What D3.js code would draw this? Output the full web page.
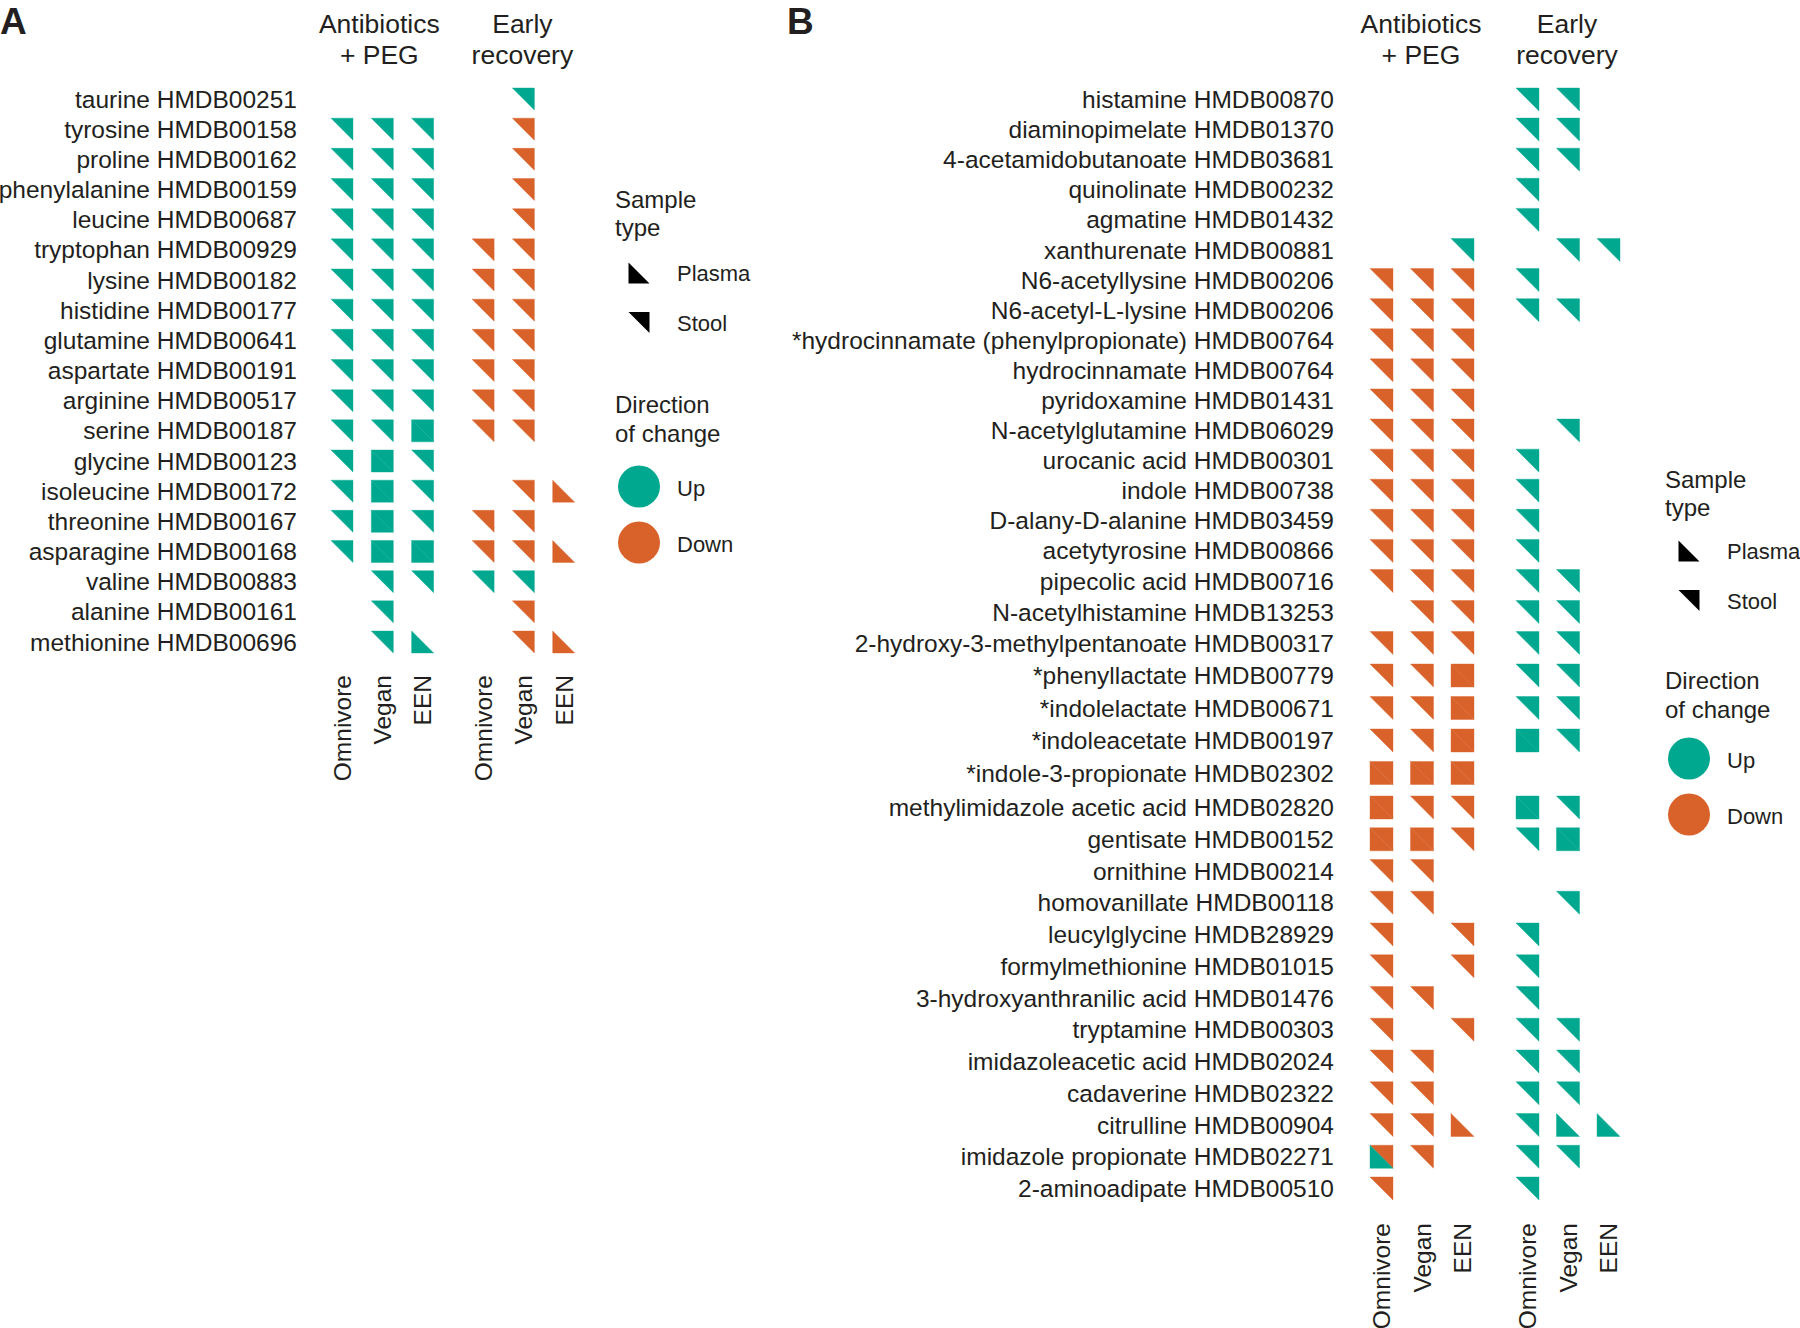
<!DOCTYPE html>
<html><head><meta charset="utf-8">
<script src="https://cdn.jsdelivr.net/npm/d3@7"></script>
<style>
body{margin:0;background:#fff}
text{font-family:"Liberation Sans",Arial,Helvetica,sans-serif;fill:#231f20}
</style>
</head><body><svg id="chart" width="1800" height="1328"></svg>
<script>
// ---------- data ----------
const groups = ["Antibiotics + PEG", "Early recovery"];
const groupLines = [["Antibiotics", "+ PEG"], ["Early", "recovery"]];
const diets = ["Omnivore", "Vegan", "EEN"];
const directionLabels = ["Up", "Down"];
const sampleLabels = ["Plasma", "Stool"];

const metabolitesA = [
  "taurine HMDB00251", "tyrosine HMDB00158", "proline HMDB00162", "phenylalanine HMDB00159",
  "leucine HMDB00687", "tryptophan HMDB00929", "lysine HMDB00182", "histidine HMDB00177",
  "glutamine HMDB00641", "aspartate HMDB00191", "arginine HMDB00517", "serine HMDB00187",
  "glycine HMDB00123", "isoleucine HMDB00172", "threonine HMDB00167", "asparagine HMDB00168",
  "valine HMDB00883", "alanine HMDB00161", "methionine HMDB00696"
];
// columns: ABX Omnivore, ABX Vegan, ABX EEN, ER Omnivore, ER Vegan, ER EEN ; 1 = up, -1 = down
const stoolA = [
  [0,0,0,0,1,0],
  [1,1,1,0,-1,0],
  [1,1,1,0,-1,0],
  [1,1,1,0,-1,0],
  [1,1,1,0,-1,0],
  [1,1,1,-1,-1,0],
  [1,1,1,-1,-1,0],
  [1,1,1,-1,-1,0],
  [1,1,1,-1,-1,0],
  [1,1,1,-1,-1,0],
  [1,1,1,-1,-1,0],
  [1,1,1,-1,-1,0],
  [1,1,1,0,0,0],
  [1,1,1,0,-1,0],
  [1,1,1,-1,-1,0],
  [1,1,1,-1,-1,0],
  [0,1,1,1,1,0],
  [0,1,0,0,-1,0],
  [0,1,0,0,-1,0]
];
const plasmaA = [
  [0,0,0,0,0,0],
  [0,0,0,0,0,0],
  [0,0,0,0,0,0],
  [0,0,0,0,0,0],
  [0,0,0,0,0,0],
  [0,0,0,0,0,0],
  [0,0,0,0,0,0],
  [0,0,0,0,0,0],
  [0,0,0,0,0,0],
  [0,0,0,0,0,0],
  [0,0,0,0,0,0],
  [0,0,1,0,0,0],
  [0,1,0,0,0,0],
  [0,1,0,0,0,-1],
  [0,1,0,0,0,0],
  [0,1,1,0,0,-1],
  [0,0,0,0,0,0],
  [0,0,0,0,0,0],
  [0,0,1,0,0,-1]
];

const metabolitesB = [
  "histamine HMDB00870", "diaminopimelate HMDB01370", "4-acetamidobutanoate HMDB03681",
  "quinolinate HMDB00232", "agmatine HMDB01432", "xanthurenate HMDB00881",
  "N6-acetyllysine HMDB00206", "N6-acetyl-L-lysine HMDB00206",
  "*hydrocinnamate (phenylpropionate) HMDB00764", "hydrocinnamate HMDB00764",
  "pyridoxamine HMDB01431", "N-acetylglutamine HMDB06029", "urocanic acid HMDB00301",
  "indole HMDB00738", "D-alany-D-alanine HMDB03459", "acetytyrosine HMDB00866",
  "pipecolic acid HMDB00716", "N-acetylhistamine HMDB13253",
  "2-hydroxy-3-methylpentanoate HMDB00317", "*phenyllactate HMDB00779",
  "*indolelactate HMDB00671", "*indoleacetate HMDB00197", "*indole-3-propionate HMDB02302",
  "methylimidazole acetic acid HMDB02820", "gentisate HMDB00152", "ornithine HMDB00214",
  "homovanillate HMDB00118", "leucylglycine HMDB28929", "formylmethionine HMDB01015",
  "3-hydroxyanthranilic acid HMDB01476", "tryptamine HMDB00303",
  "imidazoleacetic acid HMDB02024", "cadaverine HMDB02322", "citrulline HMDB00904",
  "imidazole propionate HMDB02271", "2-aminoadipate HMDB00510"
];
const stoolB = [
  [0,0,0,1,1,0],
  [0,0,0,1,1,0],
  [0,0,0,1,1,0],
  [0,0,0,1,0,0],
  [0,0,0,1,0,0],
  [0,0,1,0,1,1],
  [-1,-1,-1,1,0,0],
  [-1,-1,-1,1,1,0],
  [-1,-1,-1,0,0,0],
  [-1,-1,-1,0,0,0],
  [-1,-1,-1,0,0,0],
  [-1,-1,-1,0,1,0],
  [-1,-1,-1,1,0,0],
  [-1,-1,-1,1,0,0],
  [-1,-1,-1,1,0,0],
  [-1,-1,-1,1,0,0],
  [-1,-1,-1,1,1,0],
  [0,-1,-1,1,1,0],
  [-1,-1,-1,1,1,0],
  [-1,-1,-1,1,1,0],
  [-1,-1,-1,1,1,0],
  [-1,-1,-1,1,1,0],
  [-1,-1,-1,0,0,0],
  [-1,-1,-1,1,1,0],
  [-1,-1,-1,1,1,0],
  [-1,-1,0,0,0,0],
  [-1,-1,0,0,1,0],
  [-1,0,-1,1,0,0],
  [-1,0,-1,1,0,0],
  [-1,-1,0,1,0,0],
  [-1,0,-1,1,1,0],
  [-1,-1,0,1,1,0],
  [-1,-1,0,1,1,0],
  [-1,-1,0,1,0,0],
  [-1,-1,0,1,1,0],
  [-1,0,0,1,0,0]
];
const plasmaB = [
  [0,0,0,0,0,0],
  [0,0,0,0,0,0],
  [0,0,0,0,0,0],
  [0,0,0,0,0,0],
  [0,0,0,0,0,0],
  [0,0,0,0,0,0],
  [0,0,0,0,0,0],
  [0,0,0,0,0,0],
  [0,0,0,0,0,0],
  [0,0,0,0,0,0],
  [0,0,0,0,0,0],
  [0,0,0,0,0,0],
  [0,0,0,0,0,0],
  [0,0,0,0,0,0],
  [0,0,0,0,0,0],
  [0,0,0,0,0,0],
  [0,0,0,0,0,0],
  [0,0,0,0,0,0],
  [0,0,0,0,0,0],
  [0,0,-1,0,0,0],
  [0,0,-1,0,0,0],
  [0,0,-1,1,0,0],
  [-1,-1,-1,0,0,0],
  [-1,0,0,1,0,0],
  [-1,-1,0,0,1,0],
  [0,0,0,0,0,0],
  [0,0,0,0,0,0],
  [0,0,0,0,0,0],
  [0,0,0,0,0,0],
  [0,0,0,0,0,0],
  [0,0,0,0,0,0],
  [0,0,0,0,0,0],
  [0,0,0,0,0,0],
  [0,0,-1,0,1,1],
  [1,0,0,0,0,0],
  [0,0,0,0,0,0]
];

// ---------- drawing ----------
const UP = "#00a88f", DOWN = "#d9622b";
const color = d3.scaleOrdinal().domain([1, -1]).range([UP, DOWN]);
const svg = d3.select("#chart");

function triangle(kind, cx, cy, h) {
  const p = kind === "stool"
    ? [[cx - h, cy - h], [cx + h, cy - h], [cx + h, cy + h]]
    : [[cx - h, cy - h], [cx - h, cy + h], [cx + h, cy + h]];
  return "M" + p.map(q => q.join(",")).join("L") + "Z";
}

function panel(cfg) {
  const g = svg.append("g");
  const xGroup = d3.scalePoint().domain(groups).range(cfg.groupRange);
  const xSub = d3.scalePoint().domain(diets).range([-cfg.colStep, cfg.colStep]);
  const cols = [];
  groups.forEach(gr => diets.forEach(d => cols.push({ group: gr, diet: d, x: xGroup(gr) + xSub(d) })));
  const y = cfg.y;
  const h = cfg.cell / 2;

  // panel letter
  g.append("text").attr("x", cfg.letterX).attr("y", 34)
    .style("font-size", "37px").style("font-weight", "bold").text(cfg.letter);

  // group headers
  groups.forEach((gr, i) => {
    groupLines[i].forEach((ln, j) => {
      g.append("text").attr("x", xGroup(gr) + cfg.headerShift[i]).attr("y", 33 + j * 31)
        .attr("text-anchor", "middle").style("font-size", "26.5px").text(ln);
    });
  });

  // row labels
  cfg.names.forEach((n, i) => {
    g.append("text").attr("x", cfg.labelX).attr("y", y(i)).attr("dy", "0.35em")
      .attr("text-anchor", "end").style("font-size", "24.5px").text(n);
  });

  // column labels
  cols.forEach(c => {
    g.append("text").attr("transform", `translate(${c.x},${cfg.colLabelY}) rotate(-90)`)
      .attr("text-anchor", "end").attr("dy", "0.36em").style("font-size", "24.5px").text(c.diet);
  });

  // cells
  const cells = [];
  cfg.names.forEach((n, i) => {
    cols.forEach((c, j) => {
      if (cfg.stool[i][j]) cells.push({ kind: "stool", v: cfg.stool[i][j], x: c.x, y: y(i) });
      if (cfg.plasma[i][j]) cells.push({ kind: "plasma", v: cfg.plasma[i][j], x: c.x, y: y(i) });
    });
  });
  g.selectAll("path.cell").data(cells).join("path").attr("class", "cell")
    .attr("d", d => triangle(d.kind, d.x, d.y, h))
    .attr("fill", d => color(d.v))
    .attr("stroke", d => color(d.v)).attr("stroke-width", 0.4);

  // legend
  const o = cfg.legendOffsets; // [titles, sample items, direction title, circles]
  const L = g.append("g").attr("transform", `translate(${cfg.legend[0]},${cfg.legend[1]})`);
  L.append("text").attr("x", 0).attr("y", 2 + o[0]).style("font-size", "24px").text("Sample");
  L.append("text").attr("x", 0).attr("y", 30 + o[0]).style("font-size", "24px").text("type");
  sampleLabels.forEach((s, i) => {
    const cy = 69 + o[1] + i * 49.5;
    L.append("path").attr("d", triangle(s === "Plasma" ? "plasma" : "stool", 24, cy, 10.5)).attr("fill", "#000");
    L.append("text").attr("x", 62).attr("y", cy + 8).style("font-size", "22px").text(s);
  });
  L.append("text").attr("x", 0).attr("y", 208 + o[2]).style("font-size", "24px").text("Direction");
  L.append("text").attr("x", 0).attr("y", 237 + o[2]).style("font-size", "24px").text("of change");
  directionLabels.forEach((s, i) => {
    const cy = 282.5 + o[3] + i * 56;
    L.append("circle").attr("cx", 24).attr("cy", cy).attr("r", 21).attr("fill", color(s === "Up" ? 1 : -1));
    L.append("text").attr("x", 62).attr("y", cy + 9).style("font-size", "22px").text(s);
  });
}

panel({
  letter: "A", letterX: 0,
  names: metabolitesA, stool: stoolA, plasma: plasmaA,
  groupRange: [382.3, 523.4], colStep: 40.3, cell: 22, headerShift: [-3, -1],
  y: d3.scalePoint().domain(d3.range(metabolitesA.length)).range([99, 642]),
  labelX: 297, colLabelY: 675,
  legend: [615, 205], legendOffsets: [1, -1, 0, -1]
});

panel({
  letter: "B", letterX: 787,
  names: metabolitesB, stool: stoolB, plasma: plasmaB,
  groupRange: [1422, 1568], colStep: 40.5, cell: 23, headerShift: [-1, -1],
  y: d3.scaleLinear().domain([0, 16, 18, 21, 22, 23, 35])
        .range([99.5, 581, 643, 740.5, 773, 807.5, 1188.5]),
  labelX: 1334, colLabelY: 1223,
  legend: [1665, 481], legendOffsets: [5, 1, 0, -5]
});
</script>
</body></html>
